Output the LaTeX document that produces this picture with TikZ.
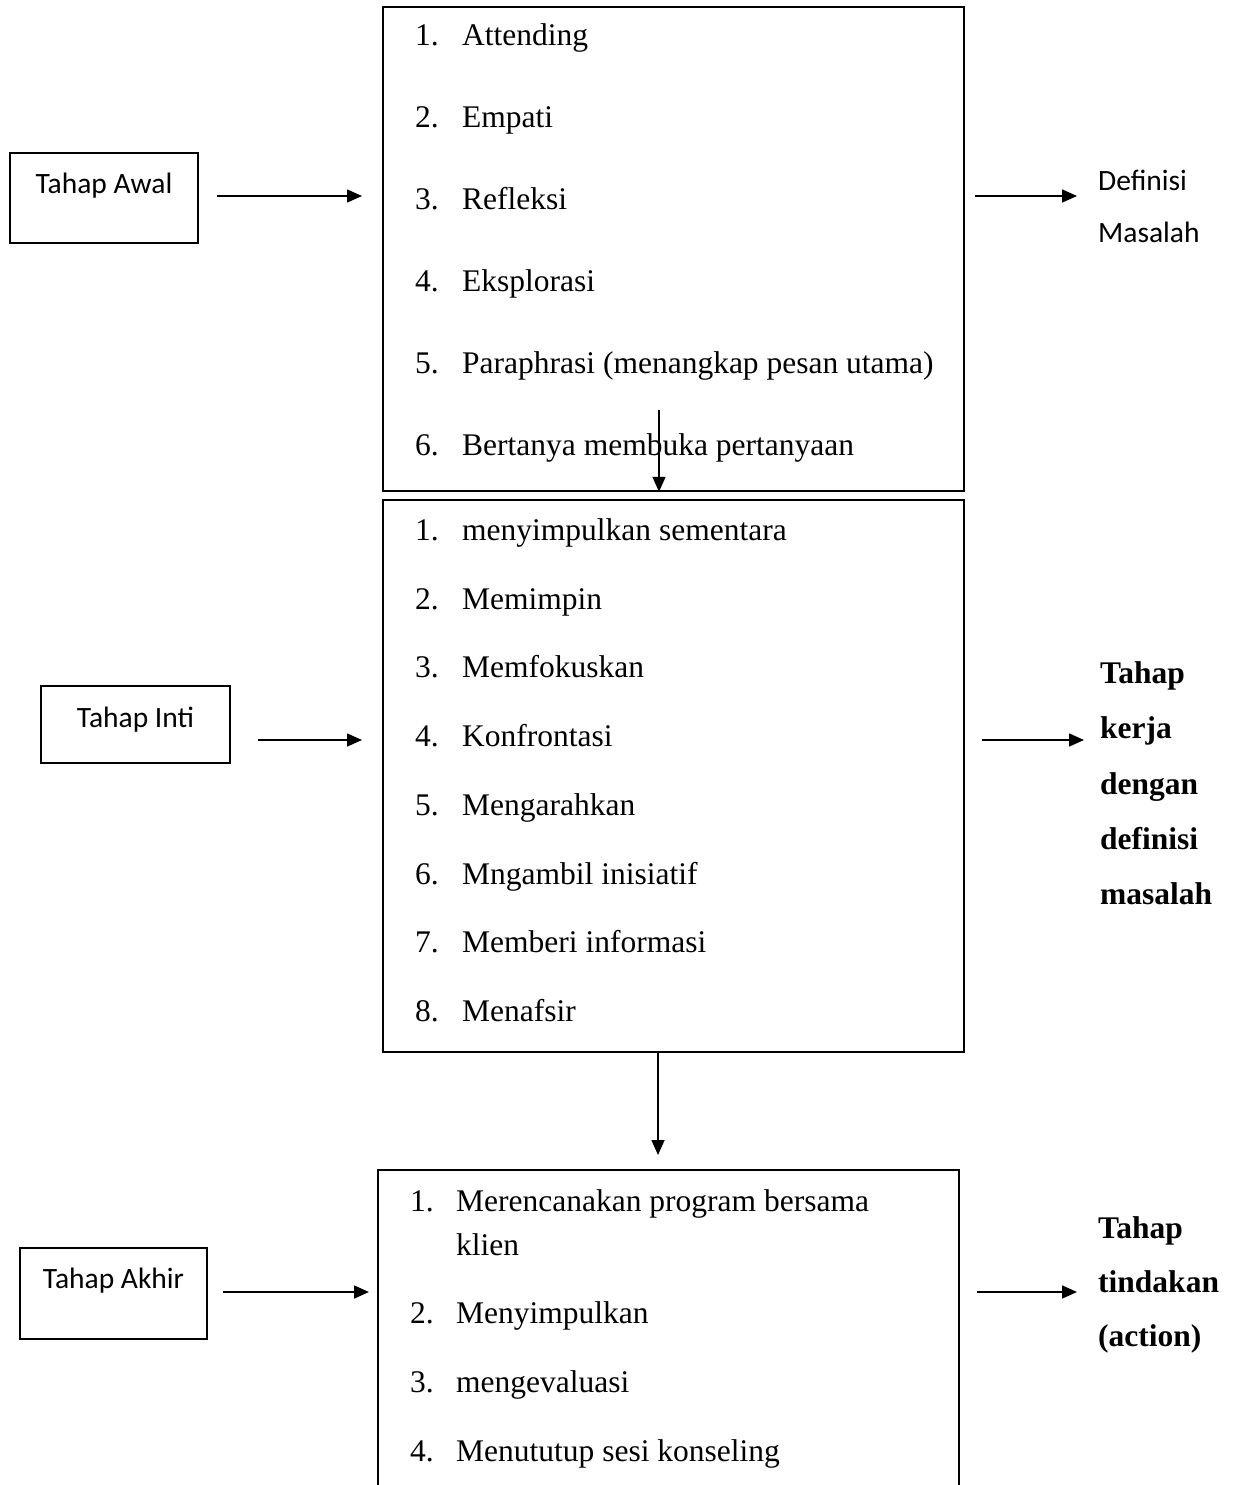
\documentclass[tikz,border=0pt]{standalone}
\usepackage{fontspec}
\setmainfont{Liberation Serif}
\newfontfamily\calibri{Carlito}
\usetikzlibrary{arrows.meta,positioning}
\tikzset{
  flow schemes/.style = {
    x=1pt, y=-1pt,
    % boxes
    stage box/.style = {draw, line width=1.6pt, inner sep=0pt},
    stage/.style  = {inner sep=0pt, font=\calibri\fontsize{29.5}{35}\selectfont},
    item/.style   = {anchor=base west, inner sep=0pt, font=\fontsize{31.5}{38}\selectfont},
    result/.style = {anchor=base west, inner sep=0pt, font=\bfseries\fontsize{31.5}{38}\selectfont},
    note/.style   = {anchor=base west, inner sep=0pt, font=\calibri\fontsize{29.5}{35}\selectfont},
    % lines, arrows
    connect line/.style = {line width=1.6pt, -{Triangle[length=15pt,width=13pt]}},
  }
}
\begin{document}
\begin{tikzpicture}[flow schemes]
  \useasboundingbox (0,0) rectangle (1234,1485);

  % left stages
  \node[stage box, minimum width=188pt, minimum height=90pt] (awal) at (104,198) {};
  \node[stage] (awal-t) at (104,186) {Tahap Awal};
  \node[stage box, minimum width=189pt, minimum height=77pt] (inti) at (135.5,724.5) {};
  \node[stage] (inti-t) at (135.5,720) {Tahap Inti};
  \node[stage box, minimum width=187pt, minimum height=91pt] (akhir) at (113.5,1293.5) {};
  \node[stage] (akhir-t) at (113.5,1281) {Tahap Akhir};

  % main boxes
  \node[stage box, minimum width=581pt, minimum height=484pt] (box1) at (673.5,249) {};
  \node[stage box, minimum width=581pt, minimum height=552pt] (box2) at (673.5,776) {};
  \draw[line width=1.6pt] (378,1495) |- (959,1170) coordinate (box3-ne) -- (959,1495);

  % items
  \foreach \t [count=\i, evaluate=\i as \y using 35+82*(\i-1)] in
      {Attending, Empati, Refleksi, Eksplorasi,
       Paraphrasi (menangkap pesan utama), Bertanya membuka pertanyaan} {
    \node[item] (a-n\i) at (415,\y+10.5) {\i.};
    \node[item] (a-\i) at (462,\y+10.5) {\t};
  }
  \foreach \t [count=\i, evaluate=\i as \y using 530+68.7*(\i-1)] in
      {menyimpulkan sementara, Memimpin, Memfokuskan, Konfrontasi,
       Mengarahkan, Mngambil inisiatif, Memberi informasi, Menafsir} {
    \node[item] (b-n\i) at (415,\y+10.5) {\i.};
    \node[item] (b-\i) at (462,\y+10.5) {\t};
  }
  \node[item] (c-n1) at (410,1211.5) {1.};
  \node[item] (c-1) at (456,1211.5) {Merencanakan program bersama};
  \node[item] (c-1b) at (456,1255.5) {klien};
  \foreach \t [count=\j, evaluate=\j as \y using 1313+69*(\j-1)] in
      {Menyimpulkan, mengevaluasi, Menututup sesi konseling} {
    \pgfmathtruncatemacro\i{\j+1}
    \node[item] (c-n\i) at (410,\y+10.5) {\i.};
    \node[item] (c-\i) at (456,\y+10.5) {\t};
  }

  % results
  \node[note] (def-1) at (1098,190) {Definisi};
  \node[note] (def-2) at (1098,242) {Masalah};
  \foreach \t [count=\i, evaluate=\i as \y using 673+55.3*(\i-1)] in
      {Tahap, kerja, dengan, definisi, masalah}
    \node[result] (kerja-\i) at (1100,\y+10.5) {\t};
  \foreach \t [count=\i, evaluate=\i as \y using 1228+54*(\i-1)] in
      {Tahap, tindakan, (action)}
    \node[result] (aksi-\i) at (1098,\y+10.5) {\t};

  % arrow ends
  \coordinate (p1) at (217,196);  \coordinate (q1) at (362,196);
  \coordinate (p2) at (258,740);  \coordinate (q2) at (362,740);
  \coordinate (p3) at (223,1292); \coordinate (q3) at (369,1292);
  \coordinate (r1) at (975,196);  \coordinate (s1) at (1077,196);
  \coordinate (r2) at (982,740);  \coordinate (s2) at (1084,740);
  \coordinate (r3) at (977,1292); \coordinate (s3) at (1077,1292);
  \coordinate (d1) at (659,410);
  \coordinate (d2) at (658,1155);

  \draw[connect line] (p1) -- (q1);
  \draw[connect line] (p2) -- (q2);
  \draw[connect line] (p3) -- (q3);
  \draw[connect line] (r1) -- (s1);
  \draw[connect line] (r2) -- (s2);
  \draw[connect line] (r3) -- (s3);
  \draw[connect line] (d1) -- (d1 |- box1.south);
  \draw[connect line] (d2 |- box2.south) -- (d2);
\end{tikzpicture}
\end{document}
